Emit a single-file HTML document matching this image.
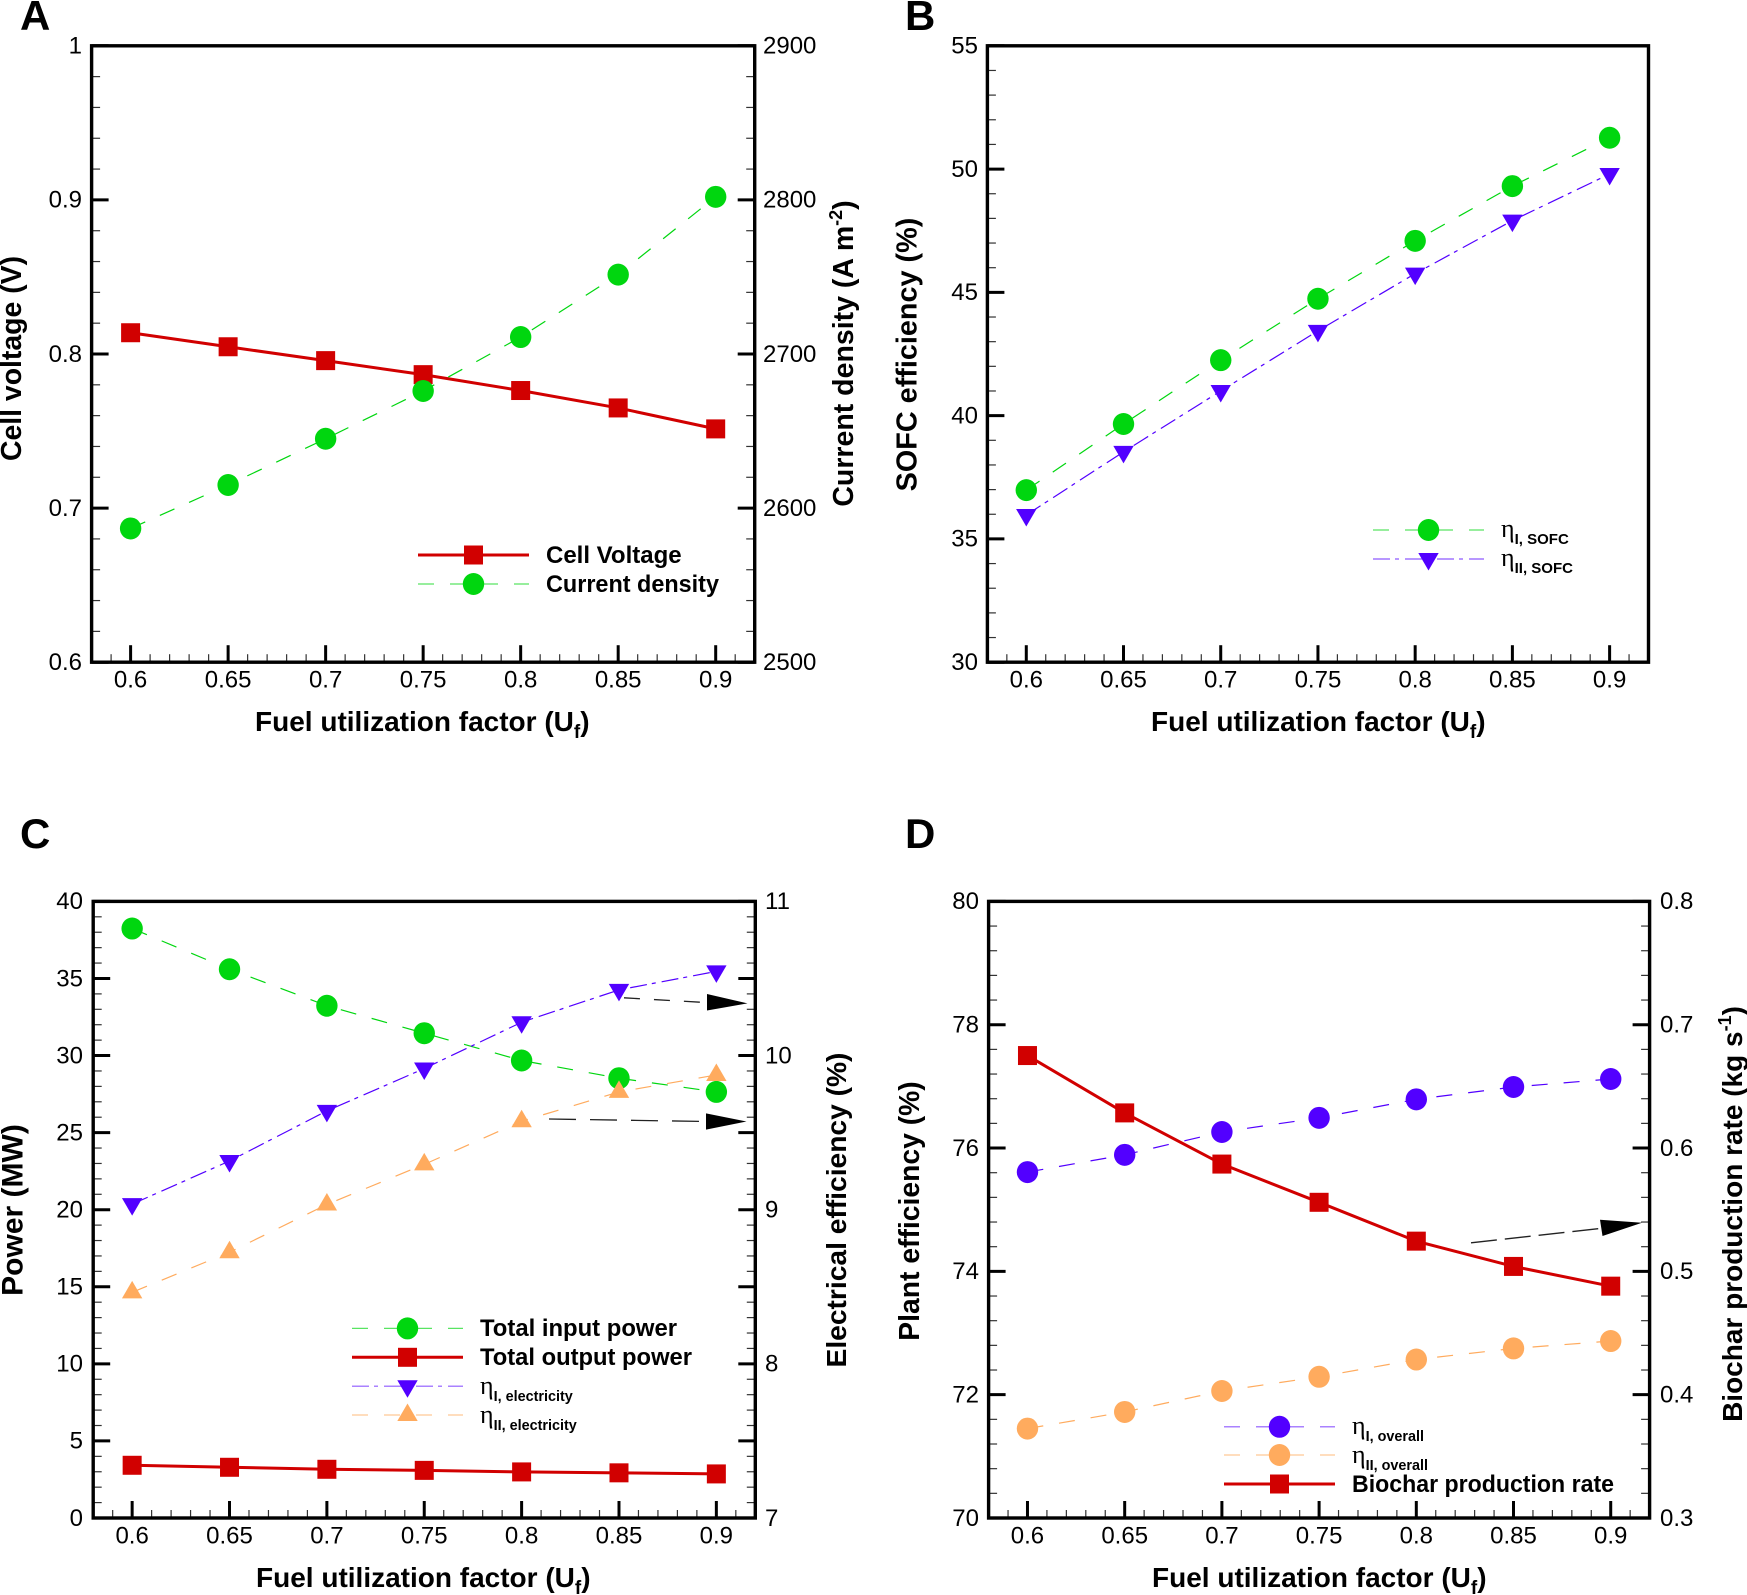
<!DOCTYPE html>
<html lang="en">
<head>
<meta charset="utf-8">
<title>Fuel utilization factor effects</title>
<style>
html,body{margin:0;padding:0;background:#fff;width:1747px;height:1595px;overflow:hidden}
svg{display:block;position:absolute;left:0;top:0}
text{font-family:"Liberation Sans",Arial,sans-serif;fill:#000}
.tick{font-size:24px}
.label{font-size:28px;font-weight:bold}
.leg{font-size:24px;font-weight:bold}
.eta{font-size:26px;font-family:"Liberation Serif","DejaVu Serif",serif}
.sub{font-size:15px;font-weight:bold}
.sub2{font-size:14.4px;font-weight:bold}
.letter{font-size:42px;font-weight:bold}
</style>
</head>
<body>
<svg id="chart" xmlns="http://www.w3.org/2000/svg" width="1747" height="1595" viewBox="0 0 1747 1595">
  <rect width="1747" height="1595" fill="#fff"/>

  <text class="letter" x="20" y="30">A</text>
  <text class="letter" x="905" y="30">B</text>
  <text class="letter" x="20" y="848">C</text>
  <text class="letter" x="905" y="848">D</text>

  <!-- axis titles -->
  <text class="label" x="255" y="731">Fuel utilization factor (U<tspan font-size="19" dy="7">f</tspan><tspan dy="-7">)</tspan></text>
  <text class="label" x="1151" y="731">Fuel utilization factor (U<tspan font-size="19" dy="7">f</tspan><tspan dy="-7">)</tspan></text>
  <text class="label" x="256" y="1587">Fuel utilization factor (U<tspan font-size="19" dy="7">f</tspan><tspan dy="-7">)</tspan></text>
  <text class="label" x="1152" y="1587">Fuel utilization factor (U<tspan font-size="19" dy="7">f</tspan><tspan dy="-7">)</tspan></text>

  <text class="label" font-size="28.4" style="font-size:28.4px" text-anchor="middle" transform="translate(21,358.5) rotate(-90)">Cell voltage (V)</text>
  <text class="label" style="font-size:28.5px" text-anchor="middle" transform="translate(853,353.5) rotate(-90)">Current density (A m<tspan font-size="18" dy="-11">-2</tspan><tspan dy="11">)</tspan></text>
  <text class="label" style="font-size:28.8px" text-anchor="middle" transform="translate(916.5,354.5) rotate(-90)">SOFC efficiency (%)</text>
  <text class="label" style="font-size:30px" text-anchor="middle" transform="translate(22.5,1210) rotate(-90)">Power (MW)</text>
  <text class="label" style="font-size:28.2px" text-anchor="middle" transform="translate(846,1210) rotate(-90)">Electrical efficiency (%)</text>
  <text class="label" style="font-size:28.3px" text-anchor="middle" transform="translate(919,1211) rotate(-90)">Plant efficiency (%)</text>
  <text class="label" text-anchor="middle" transform="translate(1742,1214) rotate(-90)">Biochar production rate (kg s<tspan font-size="18" dy="-11">-1</tspan><tspan dy="11">)</tspan></text>

  <!-- legend text -->
  <text class="leg" x="546" y="563">Cell Voltage</text>
  <text class="leg" textLength="173" lengthAdjust="spacingAndGlyphs" x="546" y="592">Current density</text>

  <text x="1501" y="537"><tspan class="eta">η</tspan><tspan class="sub" dy="7">I, SOFC</tspan></text>
  <text x="1501" y="566"><tspan class="eta">η</tspan><tspan class="sub" dy="7">II, SOFC</tspan></text>

  <text class="leg" textLength="197" lengthAdjust="spacingAndGlyphs" x="480" y="1336">Total input power</text>
  <text class="leg" textLength="212" lengthAdjust="spacingAndGlyphs" x="480" y="1365">Total output power</text>
  <text x="480" y="1394"><tspan class="eta">η</tspan><tspan class="sub2" dy="7">I, electricity</tspan></text>
  <text x="480" y="1423"><tspan class="eta">η</tspan><tspan class="sub2" dy="7">II, electricity</tspan></text>

  <text x="1352" y="1434"><tspan class="eta">η</tspan><tspan class="sub2" dy="7">I, overall</tspan></text>
  <text x="1352" y="1463"><tspan class="eta">η</tspan><tspan class="sub2" dy="7">II, overall</tspan></text>
  <text class="leg" textLength="262" lengthAdjust="spacingAndGlyphs" x="1352" y="1492">Biochar production rate</text>

  <!-- annotation arrows -->
  <g>
    <line x1="624" y1="997.8" x2="710" y2="1002.8" stroke="#222" stroke-width="1.3" stroke-dasharray="16 14"/>
    <polygon points="707,994 747.5,1003.4 707,1010.5" fill="#000"/>
  </g>
  <g>
    <line x1="549" y1="1119" x2="706" y2="1121.5" stroke="#222" stroke-width="1.3" stroke-dasharray="27 14"/>
    <polygon points="706,1113.4 746.5,1121.5 706,1129.6" fill="#000"/>
  </g>
  <g>
    <line x1="1471" y1="1242.8" x2="1600" y2="1228.5" stroke="#222" stroke-width="1.3" stroke-dasharray="26 8"/>
    <polygon points="1600,1219.8 1642,1222.8 1602.5,1236" fill="#000"/>
  </g>
</svg>
<script>
// ---------- data ----------
var fuelUtilization = [0.6, 0.65, 0.7, 0.75, 0.8, 0.85, 0.9];

var cellVoltage = [0.8138, 0.8047, 0.7957, 0.7866, 0.7763, 0.765, 0.7514];
var currentDensity = [2586.8, 2615, 2645, 2676, 2711, 2751.5, 2802];

var etaISofc = [36.98, 39.66, 42.25, 44.74, 47.09, 49.31, 51.27];
var etaIISofc = [35.97, 38.53, 41.0, 43.44, 45.76, 47.91, 49.8];

var totalInputPower = [38.24, 35.6, 33.23, 31.45, 29.68, 28.53, 27.64];
var totalOutputPower = [3.42, 3.29, 3.16, 3.09, 2.99, 2.93, 2.86];
var etaIElectricity = [9.036, 9.316, 9.641, 9.916, 10.216, 10.426, 10.546];
var etaIIElectricity = [8.464, 8.724, 9.034, 9.294, 9.574, 9.764, 9.874];

var etaIOverall = [75.61, 75.89, 76.26, 76.49, 76.79, 76.99, 77.12];
var etaIIOverall = [71.45, 71.72, 72.06, 72.29, 72.57, 72.75, 72.87];
var biocharRate = [0.675, 0.6285, 0.587, 0.556, 0.5245, 0.504, 0.488];

var xTickLabels = ['0.6', '0.65', '0.7', '0.75', '0.8', '0.85', '0.9'];
var aLeftTicks = ['0.6', '0.7', '0.8', '0.9', '1'];
var aRightTicks = ['2500', '2600', '2700', '2800', '2900'];
var bLeftTicks = ['30', '35', '40', '45', '50', '55'];
var cLeftTicks = ['0', '5', '10', '15', '20', '25', '30', '35', '40'];
var cRightTicks = ['7', '8', '9', '10', '11'];
var dLeftTicks = ['70', '72', '74', '76', '78', '80'];
var dRightTicks = ['0.3', '0.4', '0.5', '0.6', '0.7', '0.8'];

// ---------- palette ----------
var RED = '#d10000', GREEN = '#00d60f', PURPLE = '#5200ff', ORANGE = '#ffab5e';
var DASH = '16 16', DASHDOT = '17 5 4 6';

var svg = document.getElementById('chart');
var NS = 'http://www.w3.org/2000/svg';

function make(tag, attrs, parent) {
  var node = document.createElementNS(NS, tag);
  for (var k in attrs) node.setAttribute(k, attrs[k]);
  (parent || svg).appendChild(node);
  return node;
}

function xScale(p, v) { return p.left + (v - 0.58) / 0.34 * (p.right - p.left); }
function yScale(p, range, v) { return p.bottom - (v - range[0]) / (range[1] - range[0]) * (p.bottom - p.top); }

function marker(shape, x, y, color, parent, name) {
  var m;
  if (shape === 'square') {
    m = make('rect', { x: x - 9.5, y: y - 9.5, width: 19, height: 19, fill: color }, parent);
  } else if (shape === 'circle') {
    m = make('ellipse', { cx: x, cy: y, rx: 10.7, ry: 11, fill: color }, parent);
  } else if (shape === 'down') {
    m = make('polygon', { points: (x - 10.2) + ',' + (y - 6) + ' ' + (x + 10.2) + ',' + (y - 6) + ' ' + x + ',' + (y + 11.5), fill: color }, parent);
  } else {
    m = make('polygon', { points: (x - 10.2) + ',' + (y + 6) + ' ' + (x + 10.2) + ',' + (y + 6) + ' ' + x + ',' + (y - 11.5), fill: color }, parent);
  }
  
  
  return m;
}

function drawAxes(p) {
  var g = make('g', {});
  
  

  // x ticks: major every 0.05, minor every 0.01
  for (var i = 59; i <= 91; i++) {
    var v = i / 100;
    var isMajor = i % 5 === 0;
    var tx = xScale(p, v);
    var len = isMajor ? 17 : 8;
    make('line', { x1: tx, x2: tx, y1: p.bottom, y2: p.bottom - len, stroke: isMajor ? '#000' : '#333', 'stroke-width': isMajor ? 3 : 1.2 }, g);
  }
  xTickLabels.forEach(function (lab, idx) {
    var t = make('text', { class: 'tick', x: xScale(p, fuelUtilization[idx]), y: p.bottom + 25.5, 'text-anchor': 'middle' });
    t.textContent = lab;
    
    
  });

  // y ticks: the right side is only drawn on panels with a secondary axis
  var n = p.leftTicks.length - 1;
  for (var j = 0; j <= n * p.minorDiv; j++) {
    var ty = p.bottom - j / (n * p.minorDiv) * (p.bottom - p.top);
    var maj = j % p.minorDiv === 0;
    var l = maj ? 17 : 8.5;
    var sw = maj ? 3 : 1.2;
    var col = maj ? '#000' : '#333';
    make('line', { x1: p.left, x2: p.left + l, y1: ty, y2: ty, stroke: col, 'stroke-width': sw }, g);
    if (p.rightTicks) {
      make('line', { x1: p.right, x2: p.right - l, y1: ty, y2: ty, stroke: col, 'stroke-width': sw }, g);
    }
  }
  p.leftTicks.forEach(function (lab, idx) {
    var y = p.bottom - idx / n * (p.bottom - p.top) + 7.8;
    var t = make('text', { class: 'tick', x: p.leftLabelX, y: y, 'text-anchor': 'end' });
    t.textContent = lab;
    
    
  });
  if (p.rightTicks) {
    p.rightTicks.forEach(function (lab, idx) {
      var y = p.bottom - idx / (p.rightTicks.length - 1) * (p.bottom - p.top) + 7.8;
      var t = make('text', { class: 'tick', x: p.rightLabelX, y: y });
      t.textContent = lab;
      
      
    });
  }
  var frame = make('rect', { x: p.left, y: p.top, width: p.right - p.left, height: p.bottom - p.top, fill: 'none', stroke: '#000', 'stroke-width': 3.4 }, g);
  
  
}

function drawSeries(p, values, range, s) {
  var g = make('g', {});
  
  
  var pts = values.map(function (v, i) {
    return [xScale(p, fuelUtilization[i]), yScale(p, range, v)];
  });
  var line = make('polyline', {
    points: pts.map(function (q) { return q.join(','); }).join(' '),
    fill: 'none', stroke: s.color, 'stroke-width': s.width
  }, g);
  if (s.dash) line.setAttribute('stroke-dasharray', s.dash);
  
  
  pts.forEach(function (q) {
    marker(s.shape, q[0], q[1], s.color, g, s.name + '-point');
  });
}

function legendRow(x1, x2, y, s) {
  var g = make('g', {});
  
  
  var line = make('line', { x1: x1, x2: x2, y1: y, y2: y, stroke: s.color, 'stroke-width': s.width, opacity: s.dash ? 0.65 : 1 }, g);
  if (s.dash) line.setAttribute('stroke-dasharray', s.dash);
  marker(s.shape, (x1 + x2) / 2, y, s.color, g, 'legend-marker-' + s.name);
}

// ---------- panels ----------
var panelA = { id: 'panel-a', left: 91.6, right: 754.7, top: 45.8, bottom: 662.2, leftTicks: aLeftTicks, rightTicks: aRightTicks, minorDiv: 5, leftLabelX: 82, rightLabelX: 763 };
var panelB = { id: 'panel-b', left: 987.4, right: 1648.5, top: 45.8, bottom: 662.2, leftTicks: bLeftTicks, rightTicks: null, minorDiv: 5, leftLabelX: 978, rightLabelX: 0 };
var panelC = { id: 'panel-c', left: 93.2, right: 755.3, top: 901.4, bottom: 1518, leftTicks: cLeftTicks, rightTicks: cRightTicks, minorDiv: 5, leftLabelX: 83, rightLabelX: 765 };
var panelD = { id: 'panel-d', left: 988.6, right: 1649.6, top: 901.4, bottom: 1518, leftTicks: dLeftTicks, rightTicks: dRightTicks, minorDiv: 5, leftLabelX: 979, rightLabelX: 1660 };

var sVoltage = { name: 'cell-voltage', color: RED, width: 3, shape: 'square' };
var sCurrent = { name: 'current-density', color: GREEN, width: 1.2, dash: DASH, shape: 'circle' };
var sEtaISofc = { name: 'eta-i-sofc', color: GREEN, width: 1.2, dash: DASH, shape: 'circle' };
var sEtaIISofc = { name: 'eta-ii-sofc', color: PURPLE, width: 1.2, dash: DASHDOT, shape: 'down' };
var sInput = { name: 'total-input-power', color: GREEN, width: 1.2, dash: DASH, shape: 'circle' };
var sOutput = { name: 'total-output-power', color: RED, width: 3, shape: 'square' };
var sEtaIEl = { name: 'eta-i-electricity', color: PURPLE, width: 1.2, dash: DASHDOT, shape: 'down' };
var sEtaIIEl = { name: 'eta-ii-electricity', color: ORANGE, width: 1.2, dash: DASH, shape: 'up' };
var sEtaIOv = { name: 'eta-i-overall', color: PURPLE, width: 1.2, dash: DASH, shape: 'circle' };
var sEtaIIOv = { name: 'eta-ii-overall', color: ORANGE, width: 1.2, dash: DASH, shape: 'circle' };
var sBiochar = { name: 'biochar-production-rate', color: RED, width: 3, shape: 'square' };

[panelA, panelB, panelC, panelD].forEach(drawAxes);

drawSeries(panelA, cellVoltage, [0.6, 1], sVoltage);
drawSeries(panelA, currentDensity, [2500, 2900], sCurrent);
drawSeries(panelB, etaISofc, [30, 55], sEtaISofc);
drawSeries(panelB, etaIISofc, [30, 55], sEtaIISofc);
drawSeries(panelC, totalInputPower, [0, 40], sInput);
drawSeries(panelC, totalOutputPower, [0, 40], sOutput);
drawSeries(panelC, etaIElectricity, [7, 11], sEtaIEl);
drawSeries(panelC, etaIIElectricity, [7, 11], sEtaIIEl);
drawSeries(panelD, etaIOverall, [70, 80], sEtaIOv);
drawSeries(panelD, etaIIOverall, [70, 80], sEtaIIOv);
drawSeries(panelD, biocharRate, [0.3, 0.8], sBiochar);

// ---------- legends ----------
legendRow(418, 529, 555, sVoltage);
legendRow(418, 529, 584, sCurrent);
legendRow(1373, 1484, 530, sEtaISofc);
legendRow(1373, 1484, 559, sEtaIISofc);
legendRow(352, 463, 1328.4, sInput);
legendRow(352, 463, 1357.3, sOutput);
legendRow(352, 463, 1386.2, sEtaIEl);
legendRow(352, 463, 1415, sEtaIIEl);
legendRow(1224, 1335, 1426.8, sEtaIOv);
legendRow(1224, 1335, 1455, sEtaIIOv);
legendRow(1224, 1335, 1484, sBiochar);
</script>
</body>
</html>
